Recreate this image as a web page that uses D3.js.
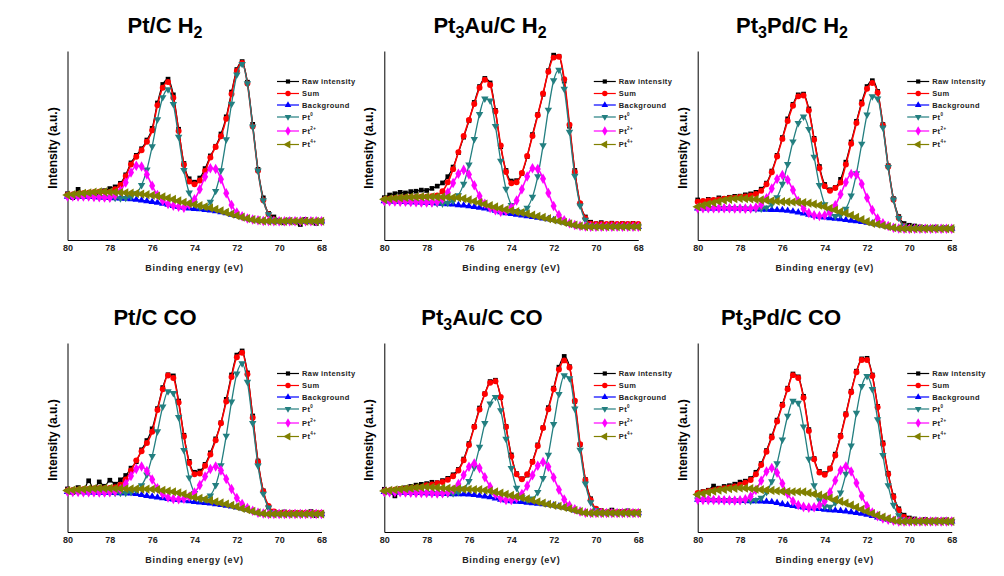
<!DOCTYPE html>
<html><head><meta charset="utf-8">
<script src="https://cdn.jsdelivr.net/npm/d3@7"></script>
<style>body{margin:0;background:#fff}svg{display:block}</style>
</head><body><svg id="c" width="1004" height="576"></svg>
<script>
// ---------------- DATA ----------------
const energies = [80,79.75,79.5,79.25,79,78.75,78.5,78.25,78,77.75,77.5,77.25,77,76.75,76.5,76.25,76,75.75,75.5,75.25,75,74.75,74.5,74.25,74,73.75,73.5,73.25,73,72.75,72.5,72.25,72,71.75,71.5,71.25,71,70.75,70.5,70.25,70,69.75,69.5,69.25,69,68.75,68.5,68.25,68];
const xTickValues = [80,78,76,74,72,70,68];
const legendNames = ["Raw intensity","Sum","Background","Pt","Pt","Pt"];
const legendSups = ["","","","0","2+","4+"];
const titleTexts = [
  [["Pt/C H",0],["2",1]],
  [["Pt",0],["3",1],["Au/C H",0],["2",1]],
  [["Pt",0],["3",1],["Pd/C H",0],["2",1]],
  [["Pt/C CO",0]],
  [["Pt",0],["3",1],["Au/C CO",0]],
  [["Pt",0],["3",1],["Pd/C CO",0]]
];

// Panel 1: Pt/C H2
const p1Raw = [24.5,22.4,26.8,23.3,24.1,25.2,24.6,26.1,27.2,28.1,30,34.5,40.8,44.8,48.3,52.9,59.1,72.5,82.3,85.1,76.8,58.6,40.5,32.4,30.6,32.8,37.8,44.5,49.6,56.1,65.2,78.3,90.2,94.4,83.5,61.2,37.4,22.3,14.1,12.2,10.3,9.1,10.6,9.4,8.2,10.9,9.6,8.8,10.2];
const p1Sum = [23.8,24.1,24.4,24.7,25,25.3,25.5,25.5,25.4,26.8,29.1,33.8,40,44,47.5,52,58,71.3,80.6,83.6,75.3,57.7,39.8,31,29.5,31.5,36.5,43.7,49.2,54.9,64.1,77.2,89.4,93.6,82.8,60,36.7,21,13.6,10.8,9.9,9.9,9.9,9.9,9.9,9.9,9.9,9.9,9.9];
const p1Bg = [23,23,23,23,23,22.8,22.6,22.5,22.3,22.2,22,21.9,21.7,21.4,21,20.6,20.2,19.8,19.3,18.7,18.1,17.6,17.1,16.8,16.5,16.3,16,15.7,15.3,14.8,14.2,13.5,12.8,12.1,11.4,10.8,10.4,10.1,10,9.9,9.9,9.9,9.9,9.9,9.9,9.9,9.9,9.9,9.9];
const p1Pt0 = [23,23,23,23,23,22.8,22.6,22.5,22.3,22.2,22,22.2,22.9,24.7,29,37.2,49.5,63.8,75.5,79.7,71.9,54.6,36.9,25,19.2,17.4,17.5,20.1,25.9,36.8,53.2,72,87.5,93.1,82.8,60,36.7,21,13.6,10.8,9.9,9.9,9.9,9.9,9.9,9.9,9.9,9.9,9.9];
const p1Pt2 = [23,23,23,23,23,22.8,22.6,22.5,22.3,23.7,26,30.4,35.7,39.3,38.9,34.6,28.7,23.8,20.8,19.1,18.1,17.6,17.1,18.6,21.5,26.8,33.4,38,37.6,32.2,24.7,18.5,14.6,12.6,11.4,10.8,10.4,10.1,10,9.9,9.9,9.9,9.9,9.9,9.9,9.9,9.9,9.9,9.9];
const p1Pt4 = [23.8,24.1,24.4,24.7,25,25.3,25.5,25.5,25.4,25.3,25.1,25,24.8,24.6,24.3,24,23.7,23.3,22.9,22.2,21.5,20.7,20,19.4,18.8,18.2,17.6,17,16.3,15.5,14.6,13.7,12.9,12.1,11.4,10.8,10.4,10.1,10,9.9,9.9,9.9,9.9,9.9,9.9,9.9,9.9,9.9,9.9];

// Panel 2: Pt3Au/C H2
const p2Raw = [22.4,23.8,24.5,25.2,24.9,25.6,25.8,26.4,26.2,27.3,28.5,30.2,33.5,38.6,46.2,54.4,63.1,72.8,81.2,85.5,83.1,68.6,49.4,36.8,31.2,31.4,35.2,44.1,55.8,66.4,77.1,89.6,97.8,97.2,84.1,60.2,36.8,19.1,12.2,9.4,8.6,9.2,8.1,8.9,8.3,8.7,8.4,8.8,7.9];
const p2Sum = [21.5,21.8,22.1,22.3,22.5,22.7,22.8,22.9,22.9,23.1,23.6,25.8,30.5,37.5,46.5,55,63.5,72,80.5,84.8,82,68,50,36,30,30.5,35.5,44.5,55,66,77.5,89,96.5,97,85,61,36,19.5,11.5,8.6,8.5,8.5,8.5,8.5,8.5,8.5,8.5,8.5,8.5];
const p2Bg = [20.6,20.5,20.4,20.3,20.2,20.1,20,19.9,19.8,19.6,19.4,19.2,19,18.8,18.5,18.3,18,17.6,17.2,16.7,16.2,15.5,14.7,14.2,13.8,13.5,13.1,12.7,12.3,11.9,11.5,11.1,10.6,10,9.3,8.6,7.9,7.4,7.1,7,7,7,7,7,7,7,7,7,7];
const p2Pt0 = [20.6,20.5,20.4,20.3,20.2,20.1,20,19.9,19.8,19.6,19.4,19.2,19.6,20.7,23.6,29.7,39.9,53.3,66.6,74.8,73.7,60.3,41.9,27,18.5,15.3,14.9,17,22.8,33.7,50,68.9,84.4,90,79.9,57.2,33.9,18.2,10.6,7.9,7,7,7,7,7,7,7,7,7];
const p2Pt2 = [20.6,20.5,20.4,20.3,20.2,20.1,20,19.9,19.8,19.8,20.2,21.7,25.1,30.2,35.1,37.1,34.6,29,23.3,19.2,17,15.7,15,15.4,17,20.9,26.9,33.6,38,37.6,32.4,24.9,18,13.2,10.5,8.9,7.9,7.4,7.1,7,7,7,7,7,7,7,7,7,7];
const p2Pt4 = [21.5,21.8,22.1,22.3,22.5,22.7,22.8,22.9,22.9,22.9,22.8,22.7,22.6,22.5,22.4,21.9,21.2,20.5,19.8,19,18.2,17.5,16.8,16.1,15.5,15,14.5,13.9,13.2,12.6,12,11.3,10.6,10,9.3,8.6,7.9,7.4,7.1,7,7,7,7,7,7,7,7,7,7];

// Panel 3: Pt3Pd/C H2
const p3Raw = [21.2,20.4,21.5,21.1,22.3,22,22.6,23.1,23.2,23.9,24.4,25.2,26.9,30.1,36.5,44.8,54.2,64.1,71.8,76.8,77.2,69.4,53.8,38.9,29.4,26.6,27.8,32.1,41.2,51.9,62.8,73.1,81.2,84.3,78.6,61.1,39.3,21.9,12.4,8.7,7.8,7.4,6.9,6.6,6.4,6.8,6.2,6.5,5.9];
const p3Sum = [20.3,20.6,20.9,21.2,21.5,21.8,22.1,22.4,22.7,23,23.5,24.3,26,29.5,35.8,44.2,53.5,63,71,76,76.5,68.5,53,38,28.5,26,27.5,30.4,40,50.9,61.9,72.1,80,83.1,77.9,60.6,38.8,21.3,11.6,7.6,6.3,6,6,6,6,6,6,6,6];
const p3Bg = [16.8,16.8,16.8,16.8,16.8,16.8,16.8,16.7,16.7,16.6,16.5,16.4,16.2,16.1,16,15.9,15.8,15.5,15.1,14.6,14.1,13.5,12.9,12.4,12,11.6,11.3,11,10.6,10.3,10,9.6,9.2,8.8,8.3,7.7,7.1,6.5,6.1,6,6,6,6,6,6,6,6,6,6];
const p3Pt0 = [16.8,16.8,16.8,16.8,16.8,16.8,16.8,16.7,16.7,16.6,16.5,16.4,16.5,17.1,18.8,22.6,29.7,40.1,52.1,61.8,65.3,58.7,44,29,18.9,13.9,12.6,13.2,16.5,23.5,35.3,50.9,66.3,76,74.8,59.5,38.5,21.3,11.6,7.6,6.3,6,6,6,6,6,6,6,6];
const p3Pt2 = [16.8,16.8,16.8,16.8,16.8,16.8,16.8,16.7,16.7,16.6,16.7,17.2,18.7,22.1,27.3,32.3,34.4,31.9,26.4,20.6,16.6,14.3,13.1,12.7,13.1,14.7,18.4,24.2,30.6,34.9,34.6,29.6,22.4,15.9,11.4,8.8,7.4,6.5,6.1,6,6,6,6,6,6,6,6,6,6];
const p3Pt4 = [17.6,18.3,19,19.7,20.4,21,21.5,21.8,22,21.9,21.7,21.5,21.2,21,20.8,20.5,20.3,20.2,20.1,20,19.8,19.5,19,18.4,17.6,16.8,15.9,15,14.1,13.1,12,10.8,9.7,8.8,8.3,7.7,7.1,6.5,6.1,6,6,6,6,6,6,6,6,6,6];

// Panel 4: Pt/C CO
const p4Raw = [22.8,20.9,23.5,21.7,27.1,22.4,26.5,24.2,27.4,25.3,27.6,29.9,33.8,37.2,43.5,48.4,54.6,65.3,76.4,83.2,82.6,69.3,51.2,37.4,31.6,32.2,35.8,41.9,49.3,57.8,70.2,83.1,93.6,95.8,84.2,61.4,37.6,21.8,13.2,10.9,9.8,10.6,9.9,10.4,10.1,9.6,10.8,8.7,9.9];
const p4Sum = [21.9,22.2,22.4,22.6,22.8,23,23.1,23.1,23.3,23.7,25,27.8,32.5,37.9,42.7,47.1,53.1,64.5,75.5,82.8,81.5,68.5,50.5,36.5,30.5,31,35,41,48.5,57.5,69,82,92.5,94.8,83.5,60.5,37,21.5,13.8,10.8,10.2,10.2,10.2,10.2,10.2,10.2,10.2,10.2,10.2];
const p4Bg = [21.3,21.2,21.2,21.1,21,21,20.9,20.9,20.8,20.7,20.6,20.6,20.5,20.2,19.6,19.1,18.7,18.3,18,17.6,17.3,17,16.7,16.3,16,15.7,15.4,15.1,14.8,14.4,14,13.6,13.1,12.5,11.8,11,10.2,9.8,9.5,9.5,9.5,9.5,9.5,9.5,9.5,9.5,9.5,9.5,9.5];
const p4Pt0 = [21.3,21.2,21.2,21.1,21,21,20.9,20.9,20.8,20.7,20.6,20.6,21.1,22.1,24.6,30.3,40.1,53.2,66.3,74.4,73.5,60.8,43.3,28.8,20.6,17.4,17.2,19.2,24.8,35.3,50.9,69,83.8,89.2,79.4,57.6,35.1,20.2,12.9,10.3,9.5,9.5,9.5,9.5,9.5,9.5,9.5,9.5,9.5];
const p4Pt2 = [21.3,21.2,21.2,21.1,21,21,20.9,20.9,21,21.4,22.6,25.5,29.6,33.4,34.6,32.3,27.8,23.2,20,18.3,17.5,17.3,17.6,18.6,20.9,24.8,29.4,33.3,34.6,32.6,28,22.7,18,14.8,12.7,11.3,10.2,9.8,9.5,9.5,9.5,9.5,9.5,9.5,9.5,9.5,9.5,9.5,9.5];
const p4Pt4 = [21.9,22.2,22.4,22.6,22.8,23,23.1,23.1,23.1,23,23,22.9,22.8,22.8,22.7,22.7,22.6,22.4,22.1,21.7,21.3,20.8,20.1,19.2,18.3,17.8,17.3,16.6,16,15.4,14.8,14.1,13.4,12.5,11.8,11,10.2,9.8,9.5,9.5,9.5,9.5,9.5,9.5,9.5,9.5,9.5,9.5,9.5];

// Panel 5: Pt3Au/C CO
const p5Raw = [22.6,21.3,19.1,22.9,23.4,24.1,24.8,25.2,25.6,26.3,26.1,27.2,28.4,30.3,33.1,38.6,46.8,55.9,65.6,73.2,79.6,80.3,71.2,55.9,40.8,30.9,28.2,30.1,37.4,46.1,55.2,65.8,76.1,87.2,92.9,87.5,69.1,46.2,27.8,17.6,12.1,11.3,10.2,11.6,10.4,10.8,11.2,10.1,10.5];
const p5Sum = [21.7,22,22.3,22.6,22.9,23.2,23.5,23.7,24.7,25.2,25.8,26.5,27.7,29.5,32.5,38,46,55.5,64.8,73,79,79.8,71.5,55.5,40,30.5,27.9,30.5,37,45.5,55,65,75.5,86,90.8,87,69.5,46.5,27.5,17,12.3,11,10.6,10.6,10.6,10.6,10.6,10.6,10.6];
const p5Bg = [21.2,21.1,21,21,20.9,20.8,20.7,20.7,20.6,20.5,20.4,20.3,20.2,20.1,20,20,19.9,19.6,19.2,18.9,18.5,17.8,17.1,16.7,16.4,16.1,15.9,15.6,15.3,15,14.8,14.5,14.1,13.6,13,12.3,11.5,10.8,10.2,10,10,10,10,10,10,10,10,10,10];
const p5Pt0 = [21.2,21.1,21,21,20.9,20.8,20.7,20.7,20.6,20.5,20.4,20.3,20.2,20.4,21,22.9,26.9,34.2,45,57.6,67.9,71.4,64.4,49.2,33.8,23.3,18.3,16.9,17.6,21.1,28.5,40.8,57,72.9,82.8,81.3,65.3,43.4,25.6,15.7,11.6,10.4,10,10,10,10,10,10,10];
const p5Pt2 = [21.2,21.1,21,21,20.9,20.8,20.7,20.7,20.6,20.5,20.4,20.5,20.9,22.3,25.4,30.1,34.5,36.2,33.8,29,23.9,20,17.8,16.9,16.9,17.8,20.1,24.4,30,35,37,34.5,28.8,22.4,17.2,14,12,10.9,10.2,10,10,10,10,10,10,10,10,10,10];
const p5Pt4 = [21.7,22,22.3,22.6,22.9,23.2,23.5,23.7,23.8,23.7,23.5,23.3,23.1,22.9,22.8,22.7,22.6,22.5,22.4,22.1,21.7,21.2,20.6,20,19.4,18.8,18.2,17.5,16.8,16,15.3,14.7,14.1,13.6,13,12.3,11.5,10.8,10.2,10,10,10,10,10,10,10,10,10,10];

// Panel 6: Pt3Pd/C CO
const p6Raw = [19.6,21.4,22.1,24.3,23.2,24.1,24.5,25.3,26.4,26.9,28.3,31.6,36.2,43.1,50.8,59.2,67.6,76.1,83.6,82.1,71.8,54.2,38.9,32.1,30.9,33.8,41.2,51.1,62.6,74.5,85.1,91.6,91.9,83.1,66.5,47.2,31.1,19.2,12.3,8.9,7.4,6.9,6.2,6.6,5.9,6.3,6.1,6.4,5.2];
const p6Sum = [20.6,21.1,21.6,22.1,22.6,23.1,23.6,24.1,25,26,27.5,30.5,35.5,42.5,50,58.5,67,75.5,83,81.5,71,53.5,38.5,31.5,30.3,33.5,40.5,50.5,62,74,84.5,91,91,82.5,66,46.5,30.5,18.5,11.5,8,6.6,6,6,6,6,6,6,6,6];
const p6Bg = [17.1,17,17,16.9,16.9,16.8,16.8,16.7,16.6,16.5,16.4,16.3,16.2,16.1,15.9,15.4,14.8,14.3,13.9,13.5,13.1,12.8,12.5,12.2,11.8,11.6,11.4,11.2,10.9,10.5,10.1,9.7,9.2,8.5,7.8,7.1,6.5,6,5.6,5.6,5.6,5.6,5.6,5.6,5.6,5.6,5.6,5.6,5.6];
const p6Pt0 = [17.1,17,17,16.9,16.9,16.8,16.8,16.7,16.6,16.5,16.4,16.9,18,21,26.8,36.3,48.9,61.4,69.4,68.3,55.8,38.7,24.7,16.7,13.5,13.3,15.4,20.8,30.8,45.7,63,77.2,82.4,75.6,59.6,40.6,24.7,14.3,8.8,6.6,5.6,5.6,5.6,5.6,5.6,5.6,5.6,5.6,5.6];
const p6Pt2 = [17.1,17,17,16.9,16.9,16.8,16.8,16.7,16.8,17.3,18.8,22.2,27.1,32,33.9,31.3,25.7,20.2,16.3,14.3,13.3,12.9,13.1,14,16.3,21,27.2,32.7,34.7,32,25.9,19.1,13.7,10.3,8.4,7.2,6.5,6,5.6,5.6,5.6,5.6,5.6,5.6,5.6,5.6,5.6,5.6,5.6];
const p6Pt4 = [19.8,20.4,21,21.6,22.1,22.5,22.9,23.1,23.3,23.2,23,22.7,22.4,22.2,22,21.7,21.5,21.4,21.3,21.3,21.2,20.7,20.1,19.5,18.9,18,17.1,16.2,15.3,14.2,13.1,12,10.9,9.8,8.8,7.9,7.1,6.3,5.7,5.6,5.6,5.6,5.6,5.6,5.6,5.6,5.6,5.6,5.6];

const panelSeries = [
  [p1Raw,p1Sum,p1Bg,p1Pt0,p1Pt2,p1Pt4],
  [p2Raw,p2Sum,p2Bg,p2Pt0,p2Pt2,p2Pt4],
  [p3Raw,p3Sum,p3Bg,p3Pt0,p3Pt2,p3Pt4],
  [p4Raw,p4Sum,p4Bg,p4Pt0,p4Pt2,p4Pt4],
  [p5Raw,p5Sum,p5Bg,p5Pt0,p5Pt2,p5Pt4],
  [p6Raw,p6Sum,p6Bg,p6Pt0,p6Pt2,p6Pt4]
];

// ---------------- LAYOUT / STYLE ----------------
const FONT = "Arial, 'Liberation Sans', sans-serif";
const colLeft = [67.5, 384.3, 697.7];
const rowTop = [51, 343];
const W = 254, H = 189;
const titleDX = [97.5, 105.7, 94.3, 87.5, 97.7, 83.3];
const colors = ["#000000","#ff0000","#0000ff","#237f80","#ff00ff","#808000"];
const symbolTypes = [d3.symbolSquare, d3.symbolCircle, d3.symbolTriangle, d3.symbolTriangle, d3.symbolDiamond, d3.symbolTriangle];
const symbolRot = [0,0,0,180,0,-90];
const symbolSize = [22,28,24,24,32,36];
const lineWidth = [1.2,1.6,1.2,1.3,1.6,1.6];
const legendDY = [30.5,42.5,54,66,80,93.5];

const svg = d3.select("#c");
svg.append("rect").attr("width",1004).attr("height",576).attr("fill","#fff");

panelSeries.forEach((series, k) => {
  const left = colLeft[k % 3], top = rowTop[Math.floor(k / 3)];
  const x = d3.scaleLinear().domain([80, 68]).range([left, left + W]);
  const y = d3.scaleLinear().domain([0, 100]).range([top + H, top]);
  const g = svg.append("g");

  // title
  const t = g.append("text").attr("x", left + titleDX[k]).attr("y", top - 18)
    .attr("text-anchor", "middle").attr("font-family", FONT).attr("font-weight", "bold")
    .attr("font-size", 22).attr("fill", "#000");
  titleTexts[k].forEach(([str, sub], j) => {
    const prevSub = j > 0 && titleTexts[k][j-1][1] === 1;
    t.append("tspan").text(str)
      .attr("font-size", sub ? 16 : 22)
      .attr("dy", sub ? 5 : (prevSub ? -5 : 0));
  });

  // axes
  g.append("g").attr("transform", `translate(0,${top + H})`)
    .call(d3.axisBottom(x).tickValues(xTickValues).tickSize(0).tickPadding(5).tickFormat(d3.format("d")))
    .call(a => {
      a.select(".domain").attr("stroke", "#000").attr("stroke-width", 1);
      a.selectAll("text").attr("font-family", FONT).attr("font-size", 9)
        .attr("font-weight", "bold").attr("fill", "#222");
    });
  g.append("g").attr("transform", `translate(${left},0)`)
    .call(d3.axisLeft(y).tickValues([]).tickSize(0))
    .call(a => a.select(".domain").attr("stroke", "#000").attr("stroke-width", 1));

  g.append("text").attr("x", left + W / 2).attr("y", top + H + 31)
    .attr("text-anchor", "middle").attr("font-family", FONT).attr("font-weight", "bold")
    .attr("font-size", 9).attr("letter-spacing", 0.7).attr("fill", "#222")
    .text("Binding energy (eV)");
  g.append("text").attr("transform", `translate(${left - 11},${top + 97}) rotate(-90)`)
    .attr("text-anchor", "middle").attr("font-family", FONT).attr("font-weight", "bold")
    .attr("font-size", 12).attr("fill", "#000").text("Intensity (a.u.)");

  // series
  const line = d3.line().x(d => x(d[0])).y(d => y(d[1])).curve(d3.curveMonotoneX);
  series.forEach((vals, s) => {
    const pts = energies.map((e, i) => [e, vals[i]]);
    g.append("path").attr("d", line(pts)).attr("fill", "none")
      .attr("stroke", colors[s]).attr("stroke-width", lineWidth[s]);
    const sym = d3.symbol(symbolTypes[s], symbolSize[s])();
    g.append("g").selectAll("path").data(pts).join("path")
      .attr("transform", d => `translate(${x(d[0])},${y(d[1])}) rotate(${symbolRot[s]})`)
      .attr("d", sym).attr("fill", colors[s]);
  });

  // legend
  legendNames.forEach((name, s) => {
    const ly = top + legendDY[s];
    const lx = left + 209.5;
    g.append("line").attr("x1", lx).attr("x2", lx + 22).attr("y1", ly).attr("y2", ly)
      .attr("stroke", colors[s]).attr("stroke-width", 1.2);
    g.append("path").attr("transform", `translate(${lx + 11},${ly}) rotate(${symbolRot[s]})`)
      .attr("d", d3.symbol(symbolTypes[s], symbolSize[s] * 0.8)()).attr("fill", colors[s]);
    const tx = g.append("text").attr("x", lx + 25).attr("y", ly + 2.7)
      .attr("font-family", FONT).attr("font-weight", "bold").attr("font-size", 7.5)
      .attr("letter-spacing", 0.4).attr("fill", "#222");
    tx.append("tspan").text(name);
    if (legendSups[s]) {
      tx.append("tspan").text(legendSups[s]).attr("font-size", 4.5).attr("dy", -4);
    }
  });
});
</script>
</body></html>
